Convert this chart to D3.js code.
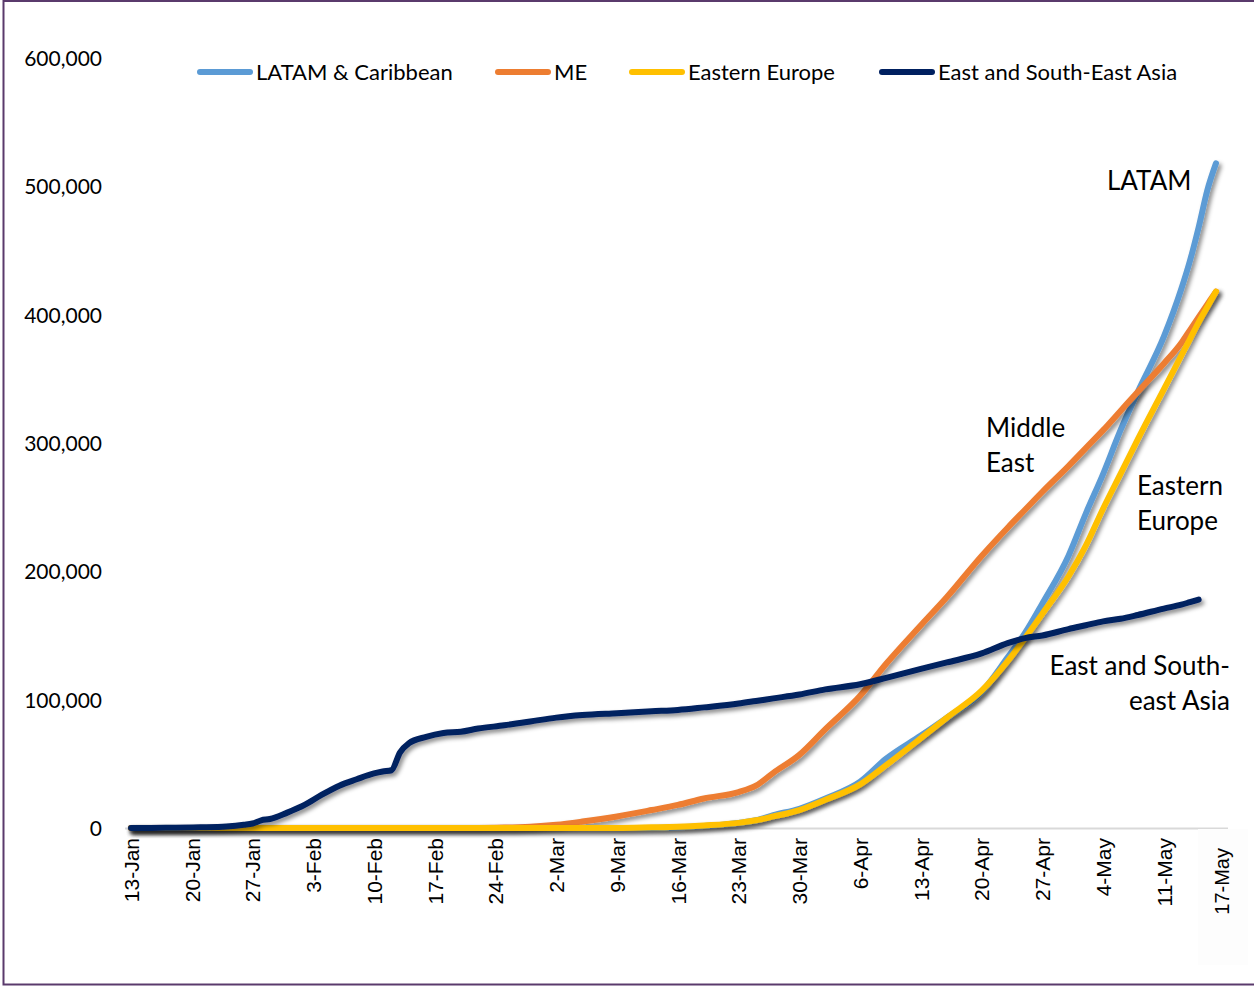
<!DOCTYPE html>
<html>
<head>
<meta charset="utf-8">
<script src="https://cdn.jsdelivr.net/npm/d3@7"></script>
<style>
  html, body { margin: 0; padding: 0; background: #ffffff; }
  svg { display: block; }
</style>
</head>
<body>
<svg id="chart" width="1254" height="987"></svg>
<script>
// Cumulative confirmed cases by region, 13 Jan – 17 May 2020 (values in thousands)
const dates = [
  "2020-01-13","2020-01-17","2020-01-21","2020-01-24","2020-01-26","2020-01-27","2020-01-28","2020-01-29",
  "2020-01-31","2020-02-02","2020-02-04","2020-02-06","2020-02-08","2020-02-10","2020-02-11","2020-02-12",
  "2020-02-13","2020-02-14","2020-02-16","2020-02-18","2020-02-20","2020-02-22","2020-02-25","2020-02-28",
  "2020-03-02","2020-03-05","2020-03-09","2020-03-13","2020-03-16","2020-03-19","2020-03-23","2020-03-25",
  "2020-03-27","2020-03-30","2020-04-02","2020-04-06","2020-04-09","2020-04-13","2020-04-16","2020-04-20",
  "2020-04-23","2020-04-25","2020-04-27","2020-04-30","2020-05-02","2020-05-04","2020-05-06","2020-05-08",
  "2020-05-11","2020-05-13","2020-05-14","2020-05-15","2020-05-16","2020-05-17"
];

const latam = [
  0,0,0,0,0,0,0,0, 0,0,0,0,0,0,0,0, 0,0,0,0,0,0,0,0,
  0,0,0,0,0.5,1.5,4,6, 10,15,23,36,54,72,86,106,
  133,152,175,212,245,276,310,340, 383,420,442,468,497,518
];

const middleEast = [
  0,0,0,0,0,0,0,0, 0,0,0,0,0,0,0,0, 0,0,0,0,0,0,0.3,1,
  2.5,5,9,14,18,23,28,33, 43,57,77,103,128,158,180,212,
  234,248,262,282,296,310,325,340, 362,378,388,398,408,418
];

const easternEurope = [
  0,0,0,0,0,0,0,0, 0,0,0,0,0,0,0,0, 0,0,0,0,0,0,0,0,
  0,0,0,0.5,1,2,4,6, 9,14,22,34,49,70,86,107,
  130,148,167,196,220,249,276,303, 342,368,381,394,406,418
];

const eastAsia = [
  0,0.1,0.5,1.2,2.5,3.5,6,7, 12,18,26,33,38,42.5,44,45,
  59,66,71,74,75,77.5,80,83, 86,88,89.5,91,92,94,97,99,
  101,104,108,112,117,124,129,136, 144,148,150,155,158,161,163,166,
  171,174,176,178,null,null
];

const seriesNames = ["LATAM & Caribbean", "ME", "Eastern Europe", "East and South-East Asia"];
const seriesColors = ["#5B9BD5", "#ED7D31", "#FFC000", "#002060"];
const seriesValues = [latam, middleEast, easternEurope, eastAsia];

const yTicks = [0, 100000, 200000, 300000, 400000, 500000, 600000];
const xTickLabels = ["13-Jan","20-Jan","27-Jan","3-Feb","10-Feb","17-Feb","24-Feb","2-Mar","9-Mar",
  "16-Mar","23-Mar","30-Mar","6-Apr","13-Apr","20-Apr","27-Apr","4-May","11-May"];
const lastDateLabel = "17-May";

// Direct labels placed beside the line ends
const annotations = [
  { lines: ["LATAM"], x: 1107, y: 190, anchor: "start" },
  { lines: ["Middle", "East"], x: 986, y: 437, anchor: "start" },
  { lines: ["Eastern", "Europe"], x: 1137, y: 495, anchor: "start" },
  { lines: ["East and South-", "east Asia"], x: 1230, y: 675, anchor: "end" }
];

const parse = d3.timeParse("%Y-%m-%d");
const parseLabel = d3.timeParse("%d-%b-%Y");
const dateObjs = dates.map(parse);
const tickDates = xTickLabels.map(s => parseLabel(s + "-2020"));

const svg = d3.select("#chart");
const W = 1254, H = 987;

// Outer frame
svg.append("rect").attr("x", 0).attr("y", 0).attr("width", W).attr("height", H).attr("fill", "#ffffff");
svg.append("rect")
  .attr("x", 3.5).attr("y", 1).attr("width", W + 10).attr("height", 983.5)
  .attr("fill", "none").attr("stroke", "#5a3a6c").attr("stroke-width", 2);

const defs = svg.append("defs");
const shadow = defs.append("filter").attr("id", "lineShadow")
  .attr("x", "-5%").attr("y", "-5%").attr("width", "110%").attr("height", "115%");
shadow.append("feDropShadow")
  .attr("dx", 2.5).attr("dy", 3).attr("stdDeviation", 2)
  .attr("flood-color", "#000000").attr("flood-opacity", 0.45);

const x = d3.scaleTime()
  .domain([parse("2020-01-13"), parse("2020-05-17")])
  .range([131, 1216]);
const y = d3.scaleLinear().domain([0, 600000]).range([828, 58]);

// Y axis labels
const yAxis = d3.axisLeft(y).tickValues(yTicks).tickSize(0).tickPadding(0)
  .tickFormat(d3.format(","));
const gy = svg.append("g").attr("transform", "translate(102,0)").call(yAxis);
gy.select(".domain").remove();
gy.selectAll("text")
  .attr("font-family", "Lato, 'Open Sans', sans-serif")
  .attr("font-size", 21).attr("fill", "#000000").attr("dy", "0.35em");

// X axis baseline
svg.append("line")
  .attr("x1", x(parse("2020-01-13")) - 6).attr("x2", x(parse("2020-05-17")) + 12)
  .attr("y1", y(0) + 0.5).attr("y2", y(0) + 0.5)
  .attr("stroke", "#d9d9d9").attr("stroke-width", 2);

// X axis tick labels, weekly
const xAxis = d3.axisBottom(x).tickValues(tickDates).tickSize(0).tickPadding(0)
  .tickFormat((d, i) => xTickLabels[i]);
const gx = svg.append("g").attr("transform", `translate(0,${y(0)})`).call(xAxis);
gx.select(".domain").remove();
gx.selectAll("text")
  .attr("font-family", "'Liberation Sans', Arial, sans-serif")
  .attr("font-size", 21).attr("fill", "#000000")
  .attr("text-anchor", "end")
  .attr("transform", "rotate(-90)")
  .attr("x", -10).attr("y", 0).attr("dy", "0.35em");

// Separate end-date label in its own box
const lastX = x(parse("2020-05-17")) + 6;
svg.append("rect").attr("x", lastX - 24).attr("y", y(0) + 1).attr("width", 50).attr("height", 136)
  .attr("fill", "#fdfdfd");
svg.append("text")
  .attr("transform", `translate(${lastX},${y(0) + 20}) rotate(-90)`)
  .attr("text-anchor", "end").attr("dy", "0.35em")
  .attr("font-family", "'Liberation Sans', Arial, sans-serif")
  .attr("font-size", 20).attr("fill", "#000000")
  .text(lastDateLabel);

// Series lines
const line = d3.line()
  .defined(d => d.v !== null)
  .x(d => x(d.date))
  .y(d => y(d.v * 1000))
  .curve(d3.curveMonotoneX);

seriesValues.forEach((vals, i) => {
  const pts = vals.map((v, j) => ({ date: dateObjs[j], v }));
  svg.append("path")
    .datum(pts)
    .attr("d", line)
    .attr("fill", "none")
    .attr("stroke", seriesColors[i])
    .attr("stroke-width", 6)
    .attr("stroke-linecap", "round")
    .attr("stroke-linejoin", "round")
    .attr("filter", "url(#lineShadow)");
});

// Legend
const legendX = [197, 495, 629, 879];
const legend = svg.append("g").attr("transform", "translate(0,72)");
seriesNames.forEach((name, i) => {
  const g = legend.append("g").attr("transform", `translate(${legendX[i]},0)`);
  g.append("line").attr("x1", 3).attr("x2", 53).attr("y1", 0).attr("y2", 0)
    .attr("stroke", seriesColors[i]).attr("stroke-width", 6).attr("stroke-linecap", "round");
  g.append("text").attr("x", 59).attr("y", 0).attr("dy", "0.35em")
    .attr("font-family", "Lato, 'Open Sans', sans-serif")
    .attr("font-size", 22).attr("fill", "#000000")
    .text(name);
});

// Region labels
annotations.forEach(a => {
  const t = svg.append("text")
    .attr("font-family", "Lato, 'Open Sans', sans-serif")
    .attr("font-size", 26).attr("fill", "#000000")
    .attr("text-anchor", a.anchor);
  a.lines.forEach((ln, k) => {
    t.append("tspan").attr("x", a.x).attr("y", a.y + k * 35).text(ln);
  });
});
</script>
</body>
</html>
